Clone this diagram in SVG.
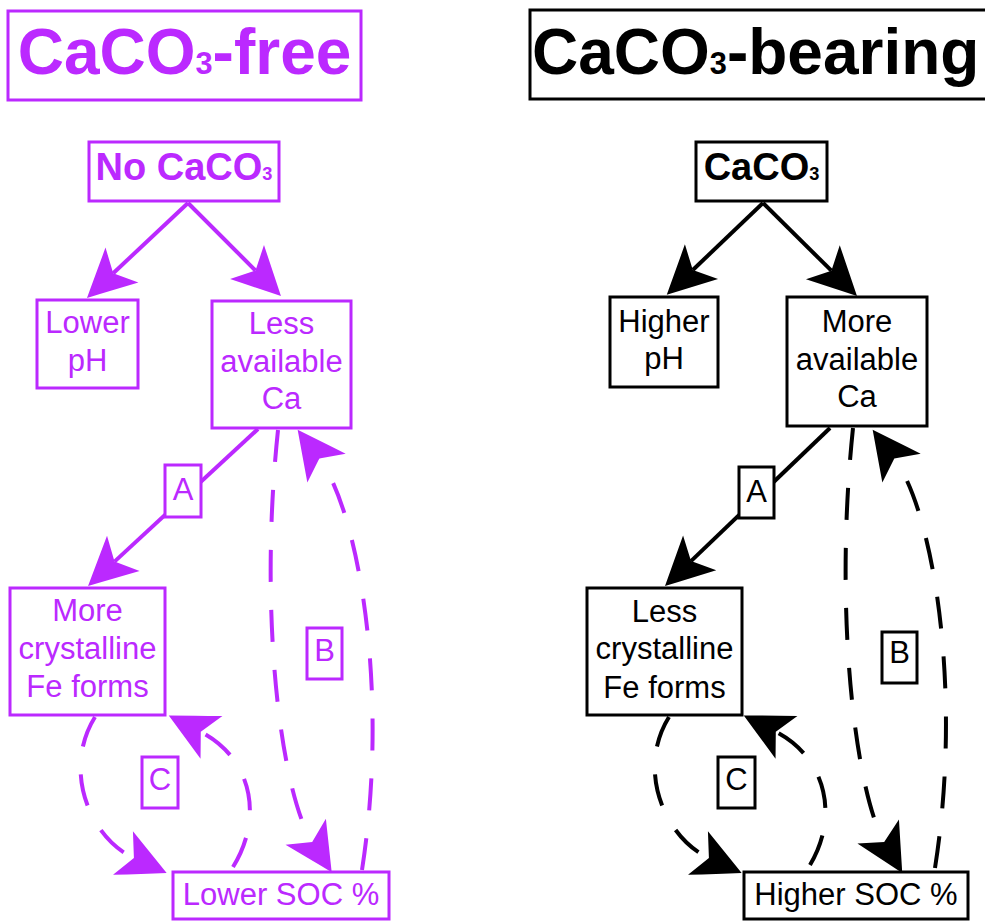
<svg xmlns="http://www.w3.org/2000/svg" width="985" height="922" viewBox="0 0 985 922">
  <style>
    text { font-family: "Liberation Sans", Arial, sans-serif; text-anchor: middle; }
    .p { fill: #bb29ff; }
    .k { fill: #000; }
    .boxp { fill: #fff; stroke: #bb29ff; stroke-width: 3; }
    .boxk { fill: #fff; stroke: #000; stroke-width: 3; }
    .title { font-size: 64px; font-weight: bold; }
    .head { font-size: 38px; font-weight: bold; }
    .body { font-size: 31px; }
    .sub { font-size: 0.48em; }
    .lp { fill: none; stroke: #bb29ff; stroke-width: 4; marker-end: url(#headP); }
    .lk { fill: none; stroke: #000; stroke-width: 4; marker-end: url(#headK); }
    .dash { stroke-dasharray: 32 28; }
  </style>
  <defs>
    <!-- barbed arrowhead; reference point is the notch where the line ends -->
    <marker id="headP" markerUnits="userSpaceOnUse" orient="auto" refX="0" refY="0" markerWidth="1" markerHeight="1" overflow="visible">
      <path d="M36,0 Q14,-11 -12,-24 L0,0 L-12,24 Q14,11 36,0 Z" fill="#bb29ff"/>
    </marker>
    <marker id="headK" markerUnits="userSpaceOnUse" orient="auto" refX="0" refY="0" markerWidth="1" markerHeight="1" overflow="visible">
      <path d="M36,0 Q14,-11 -12,-24 L0,0 L-12,24 Q14,11 36,0 Z" fill="#000"/>
    </marker>
  </defs>

  <!-- connectors -->
  <g id="connectors">
    <!-- CaCO3-free side -->
    <path class="lp" d="M188,203 L113.2,273.3"/>
    <path class="lp" d="M188,203 L255.5,270.5"/>
    <path class="lp" d="M258,429 L114.5,561.6"/>
    <path class="lp dash" d="M278,430 C258,620 282,795 312.2,841.9"/>
    <path class="lp dash" d="M362,870 C390,690 358,510 319.3,458.6"/>
    <path class="lp dash" d="M95,717 C62,770 90,838 133.9,858"/>
    <path class="lp dash" d="M233,867 C265,815 250,757 200.8,731.8"/>
    <!-- CaCO3-bearing side -->
    <path class="lk" d="M763,203 L692.8,270"/>
    <path class="lk" d="M763,203 L831.4,270.7"/>
    <path class="lk" d="M830,428 L691,561.1"/>
    <path class="lk dash" d="M853,428 C833,620 857,795 884.2,841.9"/>
    <path class="lk dash" d="M935,868 C963,690 933,510 894.3,458.6"/>
    <path class="lk dash" d="M669,717 C636,770 665,838 708.9,858"/>
    <path class="lk dash" d="M810,865 C840,815 825,757 775.8,731.8"/>
  </g>

  <!-- CaCO3-free column -->
  <g id="title-free">
    <rect class="boxp" x="8" y="11" width="353" height="89"/>
    <text class="p title" x="184.5" y="74">CaCO<tspan class="sub">3</tspan>-free</text>
  </g>
  <g id="no-caco3">
    <rect class="boxp" x="89" y="142" width="190" height="59"/>
    <text class="p head" x="184" y="180">No CaCO<tspan class="sub">3</tspan></text>
  </g>
  <g id="lower-ph">
    <rect class="boxp" x="37" y="300" width="101" height="88"/>
    <text class="p body" x="87.5" y="333">Lower</text>
    <text class="p body" x="87.5" y="371">pH</text>
  </g>
  <g id="less-ca">
    <rect class="boxp" x="212" y="301" width="139" height="127"/>
    <text class="p body" x="281.5" y="334">Less</text>
    <text class="p body" x="281.5" y="372">available</text>
    <text class="p body" x="281.5" y="409">Ca</text>
  </g>
  <g id="label-a-free">
    <rect class="boxp" x="165" y="465" width="36" height="52"/>
    <text class="p body" x="183" y="500">A</text>
  </g>
  <g id="more-crystalline">
    <rect class="boxp" x="10" y="588" width="155" height="127"/>
    <text class="p body" x="87.5" y="621">More</text>
    <text class="p body" x="87.5" y="659">crystalline</text>
    <text class="p body" x="87.5" y="697">Fe forms</text>
  </g>
  <g id="label-b-free">
    <rect class="boxp" x="307" y="628" width="35" height="51"/>
    <text class="p body" x="324.5" y="661">B</text>
  </g>
  <g id="label-c-free">
    <rect class="boxp" x="142" y="757" width="36" height="51"/>
    <text class="p body" x="160" y="790">C</text>
  </g>
  <g id="lower-soc">
    <rect class="boxp" x="173" y="872" width="216" height="47"/>
    <text class="p body" x="281" y="905">Lower SOC %</text>
  </g>

  <!-- CaCO3-bearing column -->
  <g id="title-bearing">
    <rect class="boxk" x="530" y="10" width="470" height="89"/>
    <text class="k title" x="532" y="74" style="text-anchor:start">CaCO<tspan class="sub">3</tspan>-bearing</text>
  </g>
  <g id="caco3">
    <rect class="boxk" x="696" y="142" width="131" height="59"/>
    <text class="k head" x="761.5" y="180">CaCO<tspan class="sub">3</tspan></text>
  </g>
  <g id="higher-ph">
    <rect class="boxk" x="610" y="297" width="108" height="90"/>
    <text class="k body" x="664" y="332">Higher</text>
    <text class="k body" x="664" y="369">pH</text>
  </g>
  <g id="more-ca">
    <rect class="boxk" x="787" y="297" width="140" height="129"/>
    <text class="k body" x="857" y="332">More</text>
    <text class="k body" x="857" y="370">available</text>
    <text class="k body" x="857" y="407">Ca</text>
  </g>
  <g id="label-a-bearing">
    <rect class="boxk" x="739" y="467" width="35" height="51"/>
    <text class="k body" x="756.5" y="502">A</text>
  </g>
  <g id="less-crystalline">
    <rect class="boxk" x="587" y="588" width="155" height="127"/>
    <text class="k body" x="664.5" y="622">Less</text>
    <text class="k body" x="664.5" y="659">crystalline</text>
    <text class="k body" x="664.5" y="698">Fe forms</text>
  </g>
  <g id="label-b-bearing">
    <rect class="boxk" x="882" y="632" width="35" height="51"/>
    <text class="k body" x="899.5" y="663">B</text>
  </g>
  <g id="label-c-bearing">
    <rect class="boxk" x="718" y="757" width="37" height="51"/>
    <text class="k body" x="736.5" y="790">C</text>
  </g>
  <g id="higher-soc">
    <rect class="boxk" x="744" y="872" width="224" height="47"/>
    <text class="k body" x="856" y="905">Higher SOC %</text>
  </g>
</svg>
